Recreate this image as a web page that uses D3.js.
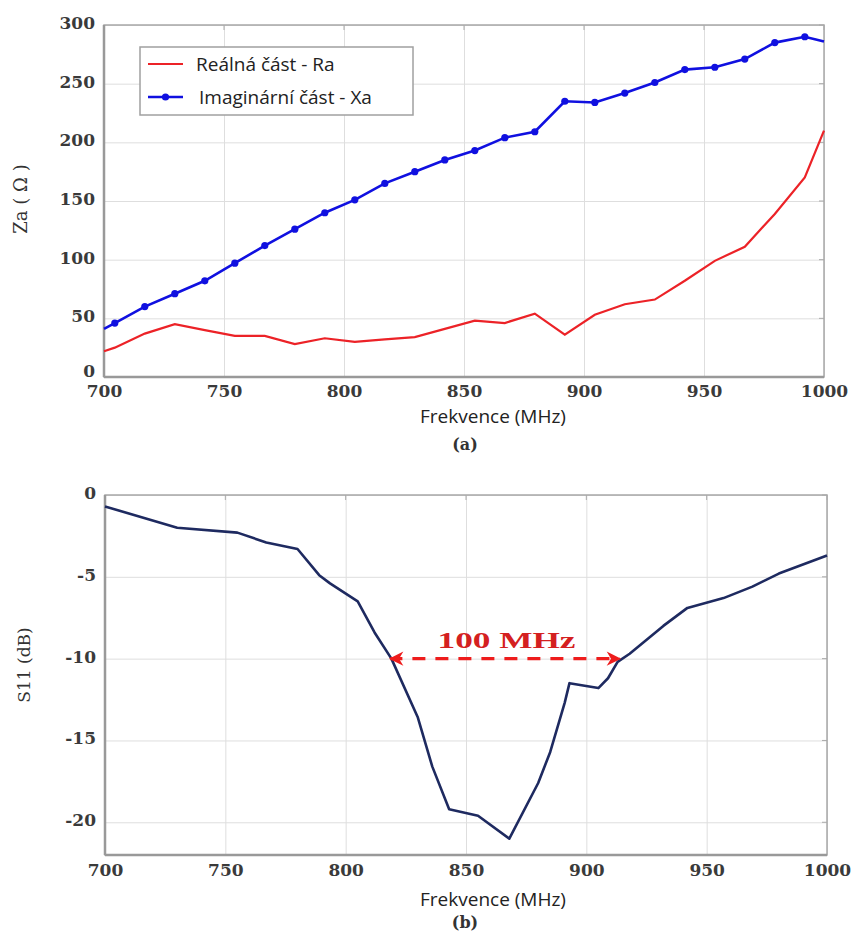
<!DOCTYPE html>
<html>
<head>
<meta charset="utf-8">
<script src="https://cdn.jsdelivr.net/npm/d3@7"></script>
<style>
  body { margin: 0; background: #fff; }
  .grid line { stroke: #dedede; stroke-width: 1; }
  .grid path { display: none; }
  .ticks text { font-family: "DejaVu Serif", serif; font-weight: bold; font-size: 17px; fill: #3a3a3a; }
  .ticks path, .ticks line { display: none; }
</style>
</head>
<body>
<div id="chart"></div>
<script>
// ---- data: (a) impedance ----
var freqZ = [700, 704.5, 717, 729.5, 742, 754.5, 767, 779.5, 792, 804.5, 817, 829.5, 842, 854.5, 867, 879.5, 892, 904.5, 917, 929.5, 942, 954.5, 967, 979.5, 992, 1000];
var Ra = [22, 25, 37, 45, 40, 35, 35, 28, 33, 30, 32, 34, 41, 48, 46, 54, 36, 53, 62, 66, 82, 99, 111, 139, 170, 210];
var Xa = [41, 46, 60, 71, 82, 97, 112, 126, 140, 151, 165, 175, 185, 193, 204, 209, 235, 234, 242, 251, 262, 264, 271, 285, 290, 286];
var zTicks = [0, 50, 100, 150, 200, 250, 300];
var legendLabels = ["Reálná část - Ra", "Imaginární část - Xa"];

// ---- data: (b) S11 ----
var freqS = [700, 730, 755, 767, 780, 789, 793.5, 805, 812, 819, 830, 836, 843, 855, 868, 880, 885, 891, 893, 905, 909, 913, 918, 932, 942, 957, 969, 980, 1000];
var S11 = [-0.7, -2.0, -2.3, -2.9, -3.3, -4.9, -5.4, -6.5, -8.4, -10.0, -13.6, -16.6, -19.2, -19.6, -21.0, -17.6, -15.7, -12.7, -11.5, -11.8, -11.2, -10.2, -9.7, -8.0, -6.9, -6.3, -5.6, -4.8, -3.7];
var sTicks = [-20, -15, -10, -5, 0];
var freqTicks = [700, 750, 800, 850, 900, 950, 1000];
var bandEdges = [819, 918];   // -10 dB bandwidth
var bandLabel = "100 MHz";

var svg = d3.select("#chart").append("svg")
  .attr("width", 860)
  .attr("height", 932);

var defs = svg.append("defs");
defs.append("marker")
  .attr("id", "arr")
  .attr("viewBox", "0 0 10 10")
  .attr("refX", 9).attr("refY", 5)
  .attr("markerWidth", 5).attr("markerHeight", 4.5)
  .attr("markerUnits", "strokeWidth")
  .attr("orient", "auto-start-reverse")
  .append("path")
    .attr("d", "M0,0 L10,5 L0,10 L3,5 Z")
    .attr("fill", "#ee1c1c");

// plain hyphen minus like the original figure
var fmt = function(d) { return String(d); };

// draws frame, grid and tick labels for one panel
function panel(x, y, xt, yt, labelY) {
  var x0 = x.range()[0], x1 = x.range()[1];
  var y0 = y.range()[1], y1 = y.range()[0];
  var g = svg.append("g");

  g.append("g").attr("class", "grid")
    .attr("transform", "translate(0," + y1 + ")")
    .call(d3.axisBottom(x).tickValues(xt).tickSize(-(y1 - y0)).tickFormat(""));
  g.append("g").attr("class", "grid")
    .attr("transform", "translate(" + x0 + ",0)")
    .call(d3.axisLeft(y).tickValues(yt).tickSize(-(x1 - x0)).tickFormat(""));

  // small inner ticks on top and right edge
  g.selectAll(".rt").data(yt).enter().append("line")
    .attr("x1", x1 - 5).attr("x2", x1)
    .attr("y1", function(d) { return y(d); }).attr("y2", function(d) { return y(d); })
    .attr("stroke", "#aaa");
  g.selectAll(".tt").data(xt).enter().append("line")
    .attr("x1", function(d) { return x(d); }).attr("x2", function(d) { return x(d); })
    .attr("y1", y0).attr("y2", y0 + 5)
    .attr("stroke", "#aaa");

  g.append("rect")
    .attr("x", x0).attr("y", y0)
    .attr("width", x1 - x0).attr("height", y1 - y0)
    .attr("fill", "none")
    .attr("stroke", "#a8a8a8")
    .attr("stroke-width", 1.5);
  g.append("line")
    .attr("x1", x0).attr("x2", x0).attr("y1", y0).attr("y2", y1)
    .attr("stroke", "#999").attr("stroke-width", 2.5);
  g.append("line")
    .attr("x1", x0).attr("x2", x1).attr("y1", y1).attr("y2", y1)
    .attr("stroke", "#999").attr("stroke-width", 2.5);

  g.append("g").attr("class", "ticks")
    .attr("transform", "translate(0," + labelY + ")")
    .call(d3.axisBottom(x).tickValues(xt).tickSize(0).tickPadding(0).tickFormat(fmt));
  g.append("g").attr("class", "ticks")
    .attr("transform", "translate(" + (x0 - 9) + ",0)")
    .call(d3.axisLeft(y).tickValues(yt).tickSize(0).tickPadding(0).tickFormat(fmt))
    .selectAll("text")
      .attr("dy", function(d) { return d === y.domain()[0] ? "-0.05em" : "0.2em"; });
  return g;
}

// ---------------- (a) ----------------
var xA = d3.scaleLinear().domain([700, 1000]).range([104, 824]);
var yA = d3.scaleLinear().domain([0, 300]).range([377, 25]);
panel(xA, yA, freqTicks, zTicks, 385);

var lineA = d3.line()
  .x(function(d, i) { return xA(freqZ[i]); })
  .y(function(d) { return yA(d); });

svg.append("path").datum(Ra)
  .attr("d", lineA)
  .attr("fill", "none")
  .attr("stroke", "#ec2227")
  .attr("stroke-width", 2.2);

svg.append("path").datum(Xa)
  .attr("d", lineA)
  .attr("fill", "none")
  .attr("stroke", "#1010e0")
  .attr("stroke-width", 2.6);

svg.append("g").selectAll("circle")
  .data(Xa.slice(1, Xa.length - 1))
  .enter().append("circle")
    .attr("cx", function(d, i) { return xA(freqZ[i + 1]); })
    .attr("cy", function(d) { return yA(d); })
    .attr("r", 3.6)
    .attr("fill", "#1010e0");

// legend
var leg = svg.append("g");
leg.append("rect")
  .attr("x", 140).attr("y", 47)
  .attr("width", 273).attr("height", 68)
  .attr("fill", "#fff")
  .attr("stroke", "#a0a0a0")
  .attr("stroke-width", 1.5);
leg.append("line")
  .attr("x1", 148).attr("x2", 183).attr("y1", 64).attr("y2", 64)
  .attr("stroke", "#ec2227").attr("stroke-width", 2.2);
leg.append("line")
  .attr("x1", 148).attr("x2", 183).attr("y1", 97).attr("y2", 97)
  .attr("stroke", "#1010e0").attr("stroke-width", 2.6);
leg.append("circle")
  .attr("cx", 165.5).attr("cy", 97).attr("r", 3.6).attr("fill", "#1010e0");
leg.selectAll("text").data(legendLabels).enter().append("text")
  .attr("x", function(d, i) { return i == 0 ? 196 : 199; })
  .attr("y", function(d, i) { return 71 + i * 33; })
  .style("font-family", "'Open Sans', sans-serif")
  .style("font-size", "19px")
  .attr("fill", "#222")
  .text(function(d) { return d; });

svg.append("text")
  .attr("transform", "translate(27,199) rotate(-90)")
  .attr("text-anchor", "middle")
  .style("font-family", "'DejaVu Serif', serif")
  .style("font-size", "18px")
  .attr("fill", "#333")
  .text("Za ( Ω )");

svg.append("text")
  .attr("x", 493).attr("y", 423)
  .attr("text-anchor", "middle")
  .style("font-family", "'Open Sans', sans-serif")
  .style("font-size", "19px")
  .attr("fill", "#222")
  .text("Frekvence (MHz)");

svg.append("text")
  .attr("x", 465).attr("y", 450)
  .attr("text-anchor", "middle")
  .style("font-family", "'DejaVu Serif', serif")
  .style("font-weight", "bold")
  .style("font-size", "16px")
  .attr("fill", "#333")
  .text("(a)");

// ---------------- (b) ----------------
var xB = d3.scaleLinear().domain([700, 1000]).range([105, 827]);
var yB = d3.scaleLinear().domain([-22, 0]).range([855, 495]);
panel(xB, yB, freqTicks, sTicks, 864);

var lineB = d3.line()
  .x(function(d, i) { return xB(freqS[i]); })
  .y(function(d) { return yB(d); });

svg.append("path").datum(S11)
  .attr("d", lineB)
  .attr("fill", "none")
  .attr("stroke", "#1e2a60")
  .attr("stroke-width", 2.6)
  .attr("stroke-linejoin", "round");

// bandwidth arrow at -10 dB
svg.append("line")
  .attr("x1", xB(bandEdges[0]) - 1).attr("x2", xB(bandEdges[1]) - 10)
  .attr("y1", yB(-10)).attr("y2", yB(-10))
  .attr("stroke", "#ee1c1c")
  .attr("stroke-width", 3.2)
  .attr("stroke-dasharray", "13,10")
  .attr("stroke-dashoffset", -22)
  .attr("marker-start", "url(#arr)")
  .attr("marker-end", "url(#arr)");

svg.append("text")
  .attr("x", (xB(bandEdges[0]) + xB(bandEdges[1])) / 2 - 4)
  .attr("y", yB(-10) - 11)
  .attr("text-anchor", "middle")
  .attr("textLength", 138)
  .attr("lengthAdjust", "spacingAndGlyphs")
  .style("font-family", "'Liberation Serif', serif")
  .style("font-weight", "bold")
  .style("font-size", "24px")
  .attr("fill", "#d42020")
  .text(bandLabel);

svg.append("text")
  .attr("transform", "translate(30,665) rotate(-90)")
  .attr("text-anchor", "middle")
  .style("font-family", "'DejaVu Serif', serif")
  .style("font-size", "17px")
  .attr("fill", "#333")
  .text("S11 (dB)");

svg.append("text")
  .attr("x", 493).attr("y", 906)
  .attr("text-anchor", "middle")
  .style("font-family", "'Open Sans', sans-serif")
  .style("font-size", "19px")
  .attr("fill", "#222")
  .text("Frekvence (MHz)");

svg.append("text")
  .attr("x", 465).attr("y", 928)
  .attr("text-anchor", "middle")
  .style("font-family", "'DejaVu Serif', serif")
  .style("font-weight", "bold")
  .style("font-size", "16px")
  .attr("fill", "#333")
  .text("(b)");
</script>
</body>
</html>
